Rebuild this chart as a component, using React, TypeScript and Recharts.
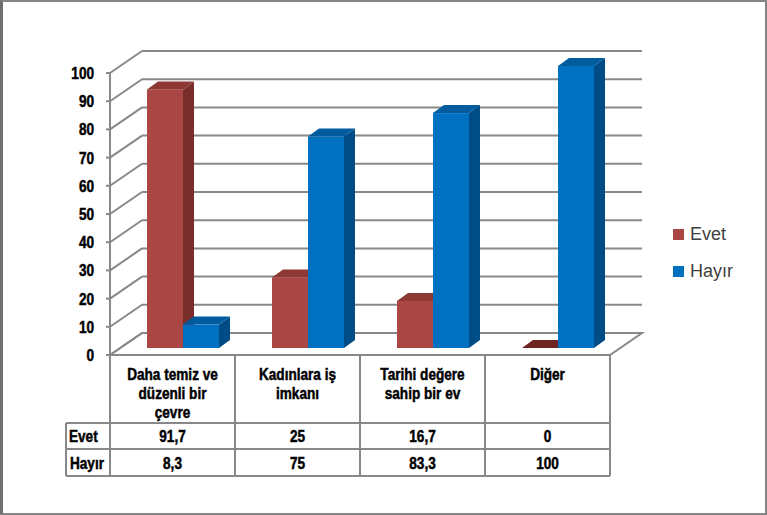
import { Bar, BarChart, CartesianGrid, Legend, XAxis, YAxis } from "recharts";

// table / axis data
const categories = [
  "Daha temiz ve\ndüzenli bir\nçevre",
  "Kadınlara iş\nimkanı",
  "Tarihi değere\nsahip bir ev",
  "Diğer",
];
const evetValues = [91.7, 25, 16.7, 0];
const hayirValues = [8.3, 75, 83.3, 100];
const seriesNames = ["Evet", "Hayır"];
const yTicks = [0, 10, 20, 30, 40, 50, 60, 70, 80, 90, 100];

const data = categories.map((category, i) => ({
  category,
  evet: evetValues[i],
  hayir: hayirValues[i],
}));

// layout
const W = 767;
const H = 515;
const PLOT_LEFT = 110;
const PLOT_RIGHT = 610;
const PLOT_TOP = 73;
const PLOT_BOTTOM = 355;
const COL_W = (PLOT_RIGHT - PLOT_LEFT) / categories.length;
const BACK_DX = 32;
const BACK_DY = -22;
const BAR_DX = 10;
const BAR_DY = -7;
const DEPTH_DX = 11;
const DEPTH_DY = -8;
const ROW1_Y = 423;
const ROW2_Y = 449;
const TABLE_BOTTOM = 476;
const HEAD_LEFT = 66;
const SQUEEZE = 0.8;

const GRID = "#888888";
const BOLD_FONT = "'Liberation Sans', Arial, sans-serif";

const RED = { front: "#aa4643", side: "#7a2e2b", top: "#8e3834", flat: "#6e2522" };
const BLUE = { front: "#0070c0", side: "#004c87", top: "#005b9f", flat: "#003f70" };

const fmt = (v: number) => String(v).replace(".", ",");

// condensed heavy text, squeezed horizontally
const Narrow = ({ x, y, anchor = "middle", children }: any) => (
  <text
    transform={`translate(${x},${y}) scale(${SQUEEZE},1)`}
    textAnchor={anchor}
    fontFamily={BOLD_FONT}
    fontWeight={700}
    fontSize={17}
    fill="#000"
    stroke="#000"
    strokeWidth={0.5}
  >
    {children}
  </text>
);

const GridLine = (props: any) => {
  const { x1, x2, y1 } = props;
  const isFloor = Math.abs(y1 - PLOT_BOTTOM) < 1;
  return (
    <g key={props.key}>
      {isFloor && (
        <path
          d={`M${x1},${y1} L${x1 + BACK_DX},${y1 + BACK_DY} L${x2 + BACK_DX},${y1 + BACK_DY} L${x2},${y1} Z`}
          fill="#fff"
          stroke={GRID}
          strokeWidth={2}
        />
      )}
      <line x1={x1} y1={y1} x2={x1 + BACK_DX} y2={y1 + BACK_DY} stroke={GRID} strokeWidth={2} />
      <line
        x1={x1 + BACK_DX}
        y1={y1 + BACK_DY}
        x2={x2 + BACK_DX}
        y2={y1 + BACK_DY}
        stroke={GRID}
        strokeWidth={2}
      />
    </g>
  );
};

const Bar3D = (props: any) => {
  const { x, y, width, height, colors } = props;
  const fx = x + BAR_DX;
  const fy = y + BAR_DY;
  const top = `M${fx},${fy} L${fx + DEPTH_DX},${fy + DEPTH_DY} L${fx + width + DEPTH_DX},${fy + DEPTH_DY} L${fx + width},${fy} Z`;
  if (!height || height < 0.5) {
    return <path d={top} fill={colors.flat} />;
  }
  return (
    <g>
      <rect x={fx} y={fy} width={width} height={height} fill={colors.front} />
      <path
        d={`M${fx + width},${fy} L${fx + width + DEPTH_DX},${fy + DEPTH_DY} L${fx + width + DEPTH_DX},${fy + height + DEPTH_DY} L${fx + width},${fy + height} Z`}
        fill={colors.side}
      />
      <path d={top} fill={colors.top} />
    </g>
  );
};

const YTick = (props: any) => {
  const { x, y, payload } = props;
  return (
    <Narrow x={x} y={y + 6} anchor="end">
      {payload.value}
    </Narrow>
  );
};

const TableTick = (props: any) => {
  const { x, payload } = props;
  const i = payload.index;
  const left = x - COL_W / 2;
  const right = x + COL_W / 2;
  const lines = String(payload.value).split("\n");
  return (
    <g>
      <line x1={right} y1={PLOT_BOTTOM} x2={right} y2={TABLE_BOTTOM} stroke={GRID} strokeWidth={2} />
      {[ROW1_Y, ROW2_Y, TABLE_BOTTOM].map((yy) => (
        <line key={yy} x1={left} y1={yy} x2={right} y2={yy} stroke={GRID} strokeWidth={2} />
      ))}
      {i === 0 && (
        <g>
          <line x1={left} y1={PLOT_BOTTOM} x2={left} y2={TABLE_BOTTOM} stroke={GRID} strokeWidth={2} />
          <line x1={HEAD_LEFT} y1={ROW1_Y} x2={HEAD_LEFT} y2={TABLE_BOTTOM} stroke={GRID} strokeWidth={2} />
          {[ROW1_Y, ROW2_Y, TABLE_BOTTOM].map((yy) => (
            <line key={yy} x1={HEAD_LEFT} y1={yy} x2={left} y2={yy} stroke={GRID} strokeWidth={2} />
          ))}
          <Narrow x={HEAD_LEFT + 3} y={442} anchor="start">
            {seriesNames[0]}
          </Narrow>
          <Narrow x={HEAD_LEFT + 4} y={469} anchor="start">
            {seriesNames[1]}
          </Narrow>
        </g>
      )}
      {lines.map((ln, k) => (
        <Narrow key={k} x={x} y={380 + k * 19}>
          {ln}
        </Narrow>
      ))}
      <Narrow x={x} y={442}>
        {fmt(evetValues[i])}
      </Narrow>
      <Narrow x={x} y={469}>
        {fmt(hayirValues[i])}
      </Narrow>
    </g>
  );
};

const LegendBox = (props: any) => {
  const items = props.payload || [];
  return (
    <div style={{ fontFamily: "'Liberation Sans', Arial, sans-serif", fontSize: 18, color: "#404040", textAlign: "left" }}>
      {items.map((it: any, k: number) => (
        <div key={k} style={{ position: "relative", height: 37 }}>
          <span
            style={{
              position: "absolute",
              left: 0,
              top: 7,
              width: 11,
              height: 11,
              background: it.color,
            }}
          />
          <span style={{ position: "absolute", left: 17, top: 2, lineHeight: "20px" }}>{it.value}</span>
        </div>
      ))}
    </div>
  );
};

export default function App() {
  return (
    <div style={{ position: "absolute", left: 0, top: 0, width: W, height: H, background: "#fff" }}>
      <BarChart
        width={W}
        height={H}
        data={data}
        margin={{ top: PLOT_TOP, right: W - PLOT_RIGHT, bottom: 0, left: 0 }}
        barGap={0}
        barSize={36}
      >
        <CartesianGrid vertical={false} horizontal={GridLine} />
        <XAxis
          dataKey="category"
          axisLine={false}
          tickLine={false}
          height={H - PLOT_BOTTOM}
          interval={0}
          tick={TableTick}
        />
        <YAxis
          width={PLOT_LEFT}
          domain={[0, 100]}
          ticks={yTicks}
          interval={0}
          axisLine={{ stroke: GRID, strokeWidth: 2 }}
          tickLine={{ stroke: GRID, strokeWidth: 2 }}
          tickSize={4}
          tickMargin={12}
          tick={YTick}
        />
        <Legend
          layout="vertical"
          align="center"
          verticalAlign="middle"
          wrapperStyle={{ position: "absolute", left: 673, top: 222, width: 90 }}
          content={LegendBox}
        />
        <Bar
          dataKey="evet"
          name={seriesNames[0]}
          fill={RED.front}
          isAnimationActive={false}
          shape={(p: any) => <Bar3D {...p} colors={RED} />}
        />
        <Bar
          dataKey="hayir"
          name={seriesNames[1]}
          fill={BLUE.front}
          isAnimationActive={false}
          shape={(p: any) => <Bar3D {...p} colors={BLUE} />}
        />
      </BarChart>
      <div
        style={{
          position: "absolute",
          inset: 0,
          borderTop: "2px solid #858585",
          borderRight: "2px solid #858585",
          borderBottom: "2px solid #858585",
          borderLeft: "3px solid #707070",
          pointerEvents: "none",
        }}
      />
    </div>
  );
}
